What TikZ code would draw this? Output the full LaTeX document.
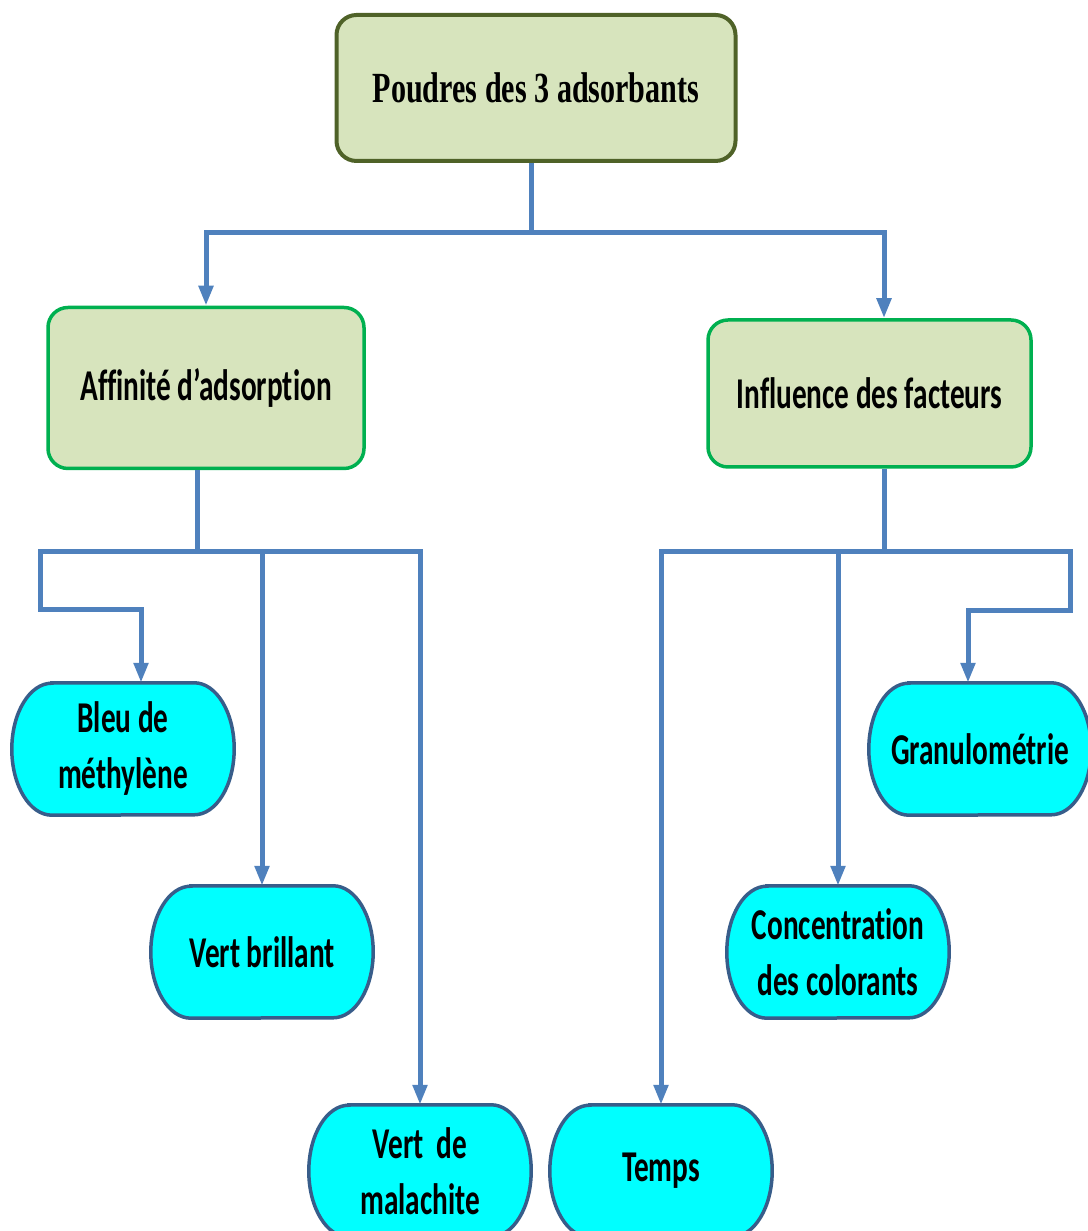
\documentclass[tikz,border=0pt]{standalone}
\usepackage{fontspec}
\usepackage{tikz}
\usetikzlibrary{arrows.meta,positioning,calc,backgrounds}
\newfontfamily\boxfont[FakeStretch=0.665,Ligatures=NoCommon]{Carlito}
\newfontfamily\titlefont[FakeStretch=0.70]{Liberation Serif}
\definecolor{oliveEdge}{HTML}{4F6228}
\definecolor{sageFill}{HTML}{D7E4BD}
\definecolor{greenEdge}{HTML}{00B050}
\definecolor{cyanFill}{HTML}{00FFFF}
\definecolor{pillEdge}{HTML}{385D8A}
\definecolor{linkBlue}{HTML}{4F81BD}
\tikzset{
  fc/top/.style={draw=oliveEdge, fill=sageFill, line width=4pt, rounded corners=20pt,
    minimum width=399pt, minimum height=146pt, align=center,
    font=\titlefont\bfseries\fontsize{43}{50}\selectfont},
  fc/mid/.style={draw=greenEdge, fill=sageFill, line width=3.5pt, rounded corners=20pt,
    align=center, font=\boxfont\bfseries\fontsize{44}{56}\selectfont},
  fc/pill/.style={minimum width=222pt, minimum height=132pt, inner sep=0pt, align=center,
    font=\boxfont\bfseries\fontsize{44}{56}\selectfont},
  fc/pillrim/.style={draw=pillEdge, fill=cyanFill, line width=3.5pt},
  fc/link/.style={draw=linkBlue, line width=5pt},
  fc/arrow/.style={fc/link, -{Triangle[width=14pt,length=20pt]}}
}
\begin{document}
\begin{tikzpicture}[x=1pt, y=1pt]
\useasboundingbox (0,0) rectangle (1087,1231);

\node[fc/top] (top) at (536,1143) {Poudres des 3 adsorbants};
\node[fc/mid, minimum width=316pt, minimum height=161pt] (aff) at (206,843) {Affinité d’adsorption};
\node[fc/mid, minimum width=323pt, minimum height=147pt] (infl) at (869.5,837.5) {Influence des facteurs};

\node[fc/pill] (bleu) at (123,482) {Bleu de\\méthylène};
\node[fc/pill] (brill) at (262,279) {Vert brillant};
\node[fc/pill] (mala) at (420,60) {Vert~ de\\malachite};
\node[fc/pill] (temps) at (661,60) {Temps};
\node[fc/pill] (conc) at (838,279) {Concentration\\des colorants};
\node[fc/pill] (gran) at (980,482) {Granulométrie};

\begin{scope}[on background layer]
  \foreach \p in {bleu,brill,mala,temps,conc,gran}
    \draw[fc/pillrim] ([xshift=40pt]\p.north west) -- ([xshift=-40pt]\p.north east)
      arc[start angle=90, end angle=-90, x radius=40pt, y radius=66pt]
      -- ([xshift=40pt]\p.south west)
      arc[start angle=270, end angle=90, x radius=40pt, y radius=66pt] -- cycle;
\end{scope}

% top level
\coordinate (busA) at (531,998);
\draw[fc/link] (top.south -| busA) -- (busA);
\draw[fc/arrow] (busA) -| (aff.north);
\draw[fc/arrow] (busA) -| ([xshift=14.5pt]infl.north);

% left branch
\coordinate (busL) at (197,679);
\coordinate (kneeL) at (40,621);
\draw[fc/link] (aff.south -| busL) -- (busL);
\draw[fc/arrow] (busL) -| (kneeL) -| ([xshift=18pt]bleu.north);
\draw[fc/arrow] (busL) -| (brill.north);
\draw[fc/arrow] (busL) -| (mala.north);

% right branch
\coordinate (busR) at (884,679);
\coordinate (kneeR) at (1070,620);
\draw[fc/link] (infl.south -| busR) -- (busR);
\draw[fc/arrow] (busR) -| (temps.north);
\draw[fc/arrow] (busR) -| (conc.north);
\draw[fc/arrow] (busR) -| (kneeR) -| ([xshift=-12pt]gran.north);
\end{tikzpicture}
\end{document}
